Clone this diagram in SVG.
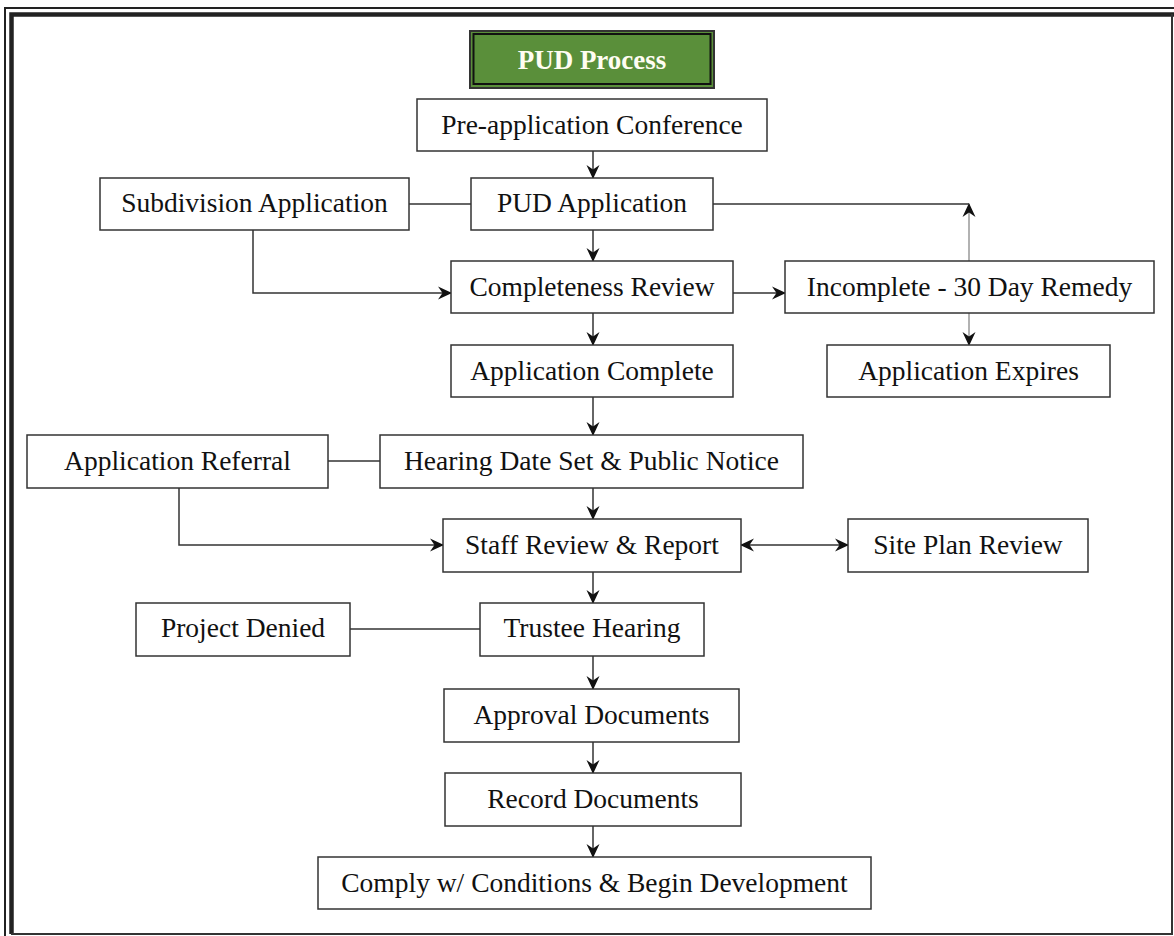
<svg xmlns="http://www.w3.org/2000/svg" width="1174" height="936" viewBox="0 0 1174 936">
<defs>
<style>
.box{fill:#fff;stroke:#333;stroke-width:1.5}
.t{font-family:"Liberation Serif","Times New Roman",serif;font-size:27.5px;fill:#111;text-anchor:middle;dominant-baseline:central}
.c{fill:none;stroke:#333;stroke-width:1.5}
.g{fill:none;stroke:#999;stroke-width:1.5}
</style>
<marker id="ah" viewBox="0 0 14 14" refX="13" refY="7" markerWidth="14" markerHeight="14" markerUnits="userSpaceOnUse" orient="auto-start-reverse">
<path d="M0,0.5 L14,7 L0,13.5 L4.5,7 Z" fill="#111"/>
</marker>
</defs>
<rect x="0" y="0" width="1174" height="936" fill="#fff"/>
<g id="frame">
<path d="M5,936 V8 H1174" fill="none" stroke="#222" stroke-width="2"/>
<path d="M11.5,934 V14.5 H1174" fill="none" stroke="#222" stroke-width="4.5"/>
<path d="M11,934 H1172 V14" fill="none" stroke="#333" stroke-width="2"/>
</g>
<g id="connectors">
<line class="c" x1="593" y1="151" x2="593" y2="178" marker-end="url(#ah)"/>
<line class="c" x1="409" y1="204" x2="471" y2="204"/>
<polyline class="c" points="713,204 969,204"/>
<line class="g" x1="969" y1="261" x2="969" y2="204" marker-end="url(#ah)"/>
<line class="c" x1="593" y1="230" x2="593" y2="261" marker-end="url(#ah)"/>
<polyline class="c" points="253,230 253,293 451,293" marker-end="url(#ah)"/>
<line class="c" x1="733" y1="293" x2="785" y2="293" marker-end="url(#ah)"/>
<line class="g" x1="969" y1="313" x2="969" y2="345" marker-end="url(#ah)"/>
<line class="c" x1="593" y1="313" x2="593" y2="345" marker-end="url(#ah)"/>
<line class="c" x1="593" y1="397" x2="593" y2="435" marker-end="url(#ah)"/>
<line class="c" x1="328" y1="461" x2="380" y2="461"/>
<polyline class="c" points="179,488 179,545 443,545" marker-end="url(#ah)"/>
<line class="c" x1="593" y1="488" x2="593" y2="519" marker-end="url(#ah)"/>
<line class="c" x1="741" y1="545" x2="848" y2="545" marker-start="url(#ah)" marker-end="url(#ah)"/>
<line class="c" x1="593" y1="572" x2="593" y2="603" marker-end="url(#ah)"/>
<line class="c" x1="350" y1="629" x2="480" y2="629"/>
<line class="c" x1="593" y1="656" x2="593" y2="689" marker-end="url(#ah)"/>
<line class="c" x1="593" y1="742" x2="593" y2="773" marker-end="url(#ah)"/>
<line class="c" x1="593" y1="826" x2="593" y2="857" marker-end="url(#ah)"/>
</g>
<g id="title">
<rect x="470" y="31" width="244" height="57" fill="#5a8f3a" stroke="#333" stroke-width="2"/>
<rect x="473.5" y="34" width="237" height="50" fill="none" stroke="#111" stroke-width="2"/>
<text x="592" y="60" class="t" style="font-weight:bold;fill:#fffdf2;font-size:27px">PUD Process</text>
</g>
<g id="preapp"><rect class="box" x="417" y="99" width="350" height="52"/><text class="t" x="592" y="124">Pre-application Conference</text></g>
<g id="pudapp"><rect class="box" x="471" y="178" width="242" height="52"/><text class="t" x="592" y="202">PUD Application</text></g>
<g id="subdiv"><rect class="box" x="100" y="178" width="309" height="52"/><text class="t" x="254.5" y="202">Subdivision Application</text></g>
<g id="complete-review"><rect class="box" x="451" y="261" width="282" height="52"/><text class="t" x="592" y="286">Completeness Review</text></g>
<g id="incomplete"><rect class="box" x="785" y="261" width="369" height="52"/><text class="t" x="969.5" y="286">Incomplete - 30 Day Remedy</text></g>
<g id="expires"><rect class="box" x="827" y="345" width="283" height="52"/><text class="t" x="968.5" y="370">Application Expires</text></g>
<g id="app-complete"><rect class="box" x="451" y="345" width="282" height="52"/><text class="t" x="592" y="370">Application Complete</text></g>
<g id="referral"><rect class="box" x="27" y="435" width="301" height="53"/><text class="t" x="177.5" y="460">Application Referral</text></g>
<g id="hearing-date"><rect class="box" x="380" y="435" width="423" height="53"/><text class="t" x="591.5" y="460">Hearing Date Set &amp; Public Notice</text></g>
<g id="staff"><rect class="box" x="443" y="519" width="298" height="53"/><text class="t" x="592" y="544">Staff Review &amp; Report</text></g>
<g id="siteplan"><rect class="box" x="848" y="519" width="240" height="53"/><text class="t" x="968" y="544">Site Plan Review</text></g>
<g id="denied"><rect class="box" x="136" y="603" width="214" height="53"/><text class="t" x="243" y="627">Project Denied</text></g>
<g id="trustee"><rect class="box" x="480" y="603" width="224" height="53"/><text class="t" x="592" y="627">Trustee Hearing</text></g>
<g id="approval"><rect class="box" x="444" y="689" width="295" height="53"/><text class="t" x="591.5" y="714">Approval Documents</text></g>
<g id="record"><rect class="box" x="445" y="773" width="296" height="53"/><text class="t" x="593" y="798">Record Documents</text></g>
<g id="comply"><rect class="box" x="318" y="857" width="553" height="52"/><text class="t" x="594.5" y="882">Comply w/ Conditions &amp; Begin Development</text></g>
</svg>
